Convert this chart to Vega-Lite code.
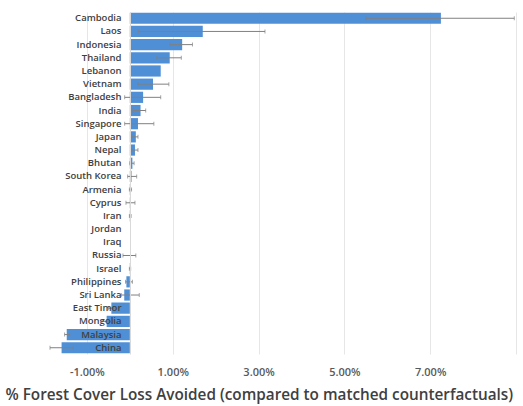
{
  "$schema": "https://vega.github.io/schema/vega-lite/v6.json",
  "autosize": {"type": "none"},
  "padding": {"left": 44, "top": 12, "right": 7, "bottom": 52},
  "width": 472,
  "height": 342,
  "config": {"view": {"stroke": null}, "font": "Open Sans"},
  "data": {"values": [
    {"country": "Cambodia", "v": 7.25, "lo": 5.5, "hi": 8.96},
    {"country": "Laos", "v": 1.7, "lo": 0.2, "hi": 3.15},
    {"country": "Indonesia", "v": 1.22, "lo": 0.93, "hi": 1.46},
    {"country": "Thailand", "v": 0.93, "lo": 0.63, "hi": 1.2},
    {"country": "Lebanon", "v": 0.72, "lo": null, "hi": null},
    {"country": "Vietnam", "v": 0.54, "lo": 0.19, "hi": 0.91},
    {"country": "Bangladesh", "v": 0.31, "lo": -0.12, "hi": 0.72},
    {"country": "India", "v": 0.25, "lo": 0.07, "hi": 0.37},
    {"country": "Singapore", "v": 0.19, "lo": -0.12, "hi": 0.56},
    {"country": "Japan", "v": 0.14, "lo": 0.04, "hi": 0.19},
    {"country": "Nepal", "v": 0.12, "lo": 0.04, "hi": 0.19},
    {"country": "Bhutan", "v": 0.06, "lo": 0.0, "hi": 0.1},
    {"country": "South Korea", "v": 0.04, "lo": -0.05, "hi": 0.16},
    {"country": "Armenia", "v": 0.015, "lo": -0.01, "hi": 0.04},
    {"country": "Cyprus", "v": 0.01, "lo": -0.09, "hi": 0.12},
    {"country": "Iran", "v": 0.01, "lo": -0.01, "hi": 0.03},
    {"country": "Jordan", "v": 0.0, "lo": null, "hi": null},
    {"country": "Iraq", "v": 0.0, "lo": null, "hi": null},
    {"country": "Russia", "v": 0.0, "lo": -0.16, "hi": 0.14},
    {"country": "Israel", "v": 0.005, "lo": -0.01, "hi": 0.02},
    {"country": "Philippines", "v": -0.08, "lo": -0.1, "hi": 0.06},
    {"country": "Sri Lanka", "v": -0.13, "lo": -0.2, "hi": 0.22},
    {"country": "East Timor", "v": -0.43, "lo": -0.5, "hi": -0.33},
    {"country": "Mongolia", "v": -0.54, "lo": -0.65, "hi": -0.4},
    {"country": "Malaysia", "v": -1.47, "lo": -1.52, "hi": -1.4},
    {"country": "China", "v": -1.59, "lo": -1.86, "hi": -1.32}
  ]},
  "encoding": {
    "y": {
      "field": "country", "type": "nominal", "sort": null,
      "scale": {"paddingInner": 0.15, "paddingOuter": 0.05},
      "axis": {
        "title": null, "offset": -86, "ticks": false, "zindex": 2,
        "domainColor": "#d9d9d9", "labelPadding": 9,
        "labelFontSize": 9.5, "labelFontWeight": 600, "labelColor": "#404040",
        "labelFont": "Open Sans"
      }
    }
  },
  "layer": [
    {
      "mark": {"type": "bar", "color": "#4f8fd6"},
      "encoding": {
        "x": {
          "field": "v", "type": "quantitative",
          "title": "% Forest Cover Loss Avoided (compared to matched counterfactuals)",
          "scale": {"domain": [-2, 9], "nice": false, "zero": false},
          "axis": {
            "values": [-1, 1, 3, 5, 7, 9],
            "labelExpr": "datum.value == 9 ? '' : replace(format(datum.value / 100, '.2%'), '\u2212', '-')",
            "domain": false, "ticks": false,
            "grid": true, "gridColor": "#e6e6e6",
            "labelFontSize": 11, "labelFontWeight": 600, "labelColor": "#595959",
            "labelPadding": 12,
            "titleFontSize": 15.3, "titleFontWeight": 600, "titleColor": "#404040",
            "titleFont": "Open Sans",
            "titleAnchor": "start", "titleAlign": "left", "titleBaseline": "alphabetic",
            "titleX": -39, "titleY": 45
          }
        }
      }
    },
    {
      "transform": [{"filter": "isValid(datum.lo)"}],
      "mark": {"type": "errorbar", "ticks": {"size": 4}, "color": "#808080"},
      "encoding": {
        "x": {"field": "lo", "type": "quantitative", "title": "% Forest Cover Loss Avoided (compared to matched counterfactuals)"},
        "x2": {"field": "hi"}
      }
    }
  ]
}
